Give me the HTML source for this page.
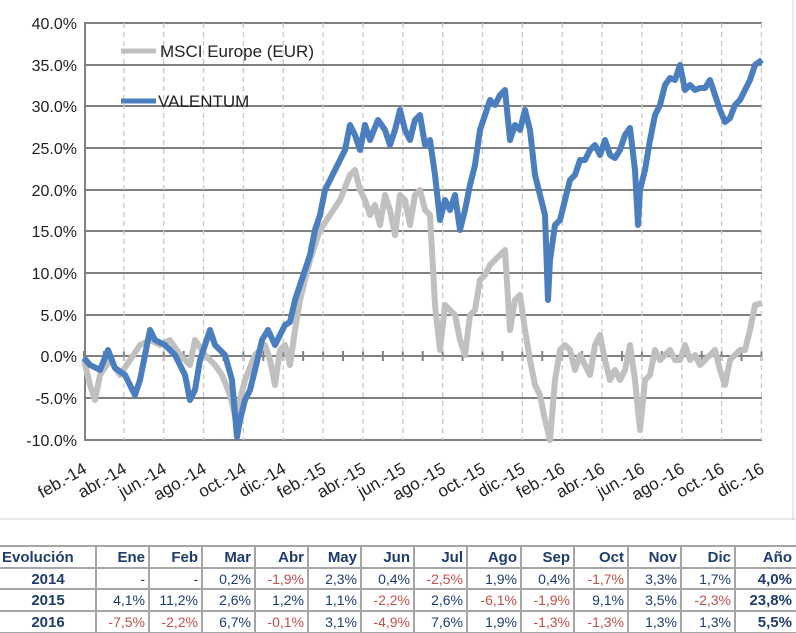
<!DOCTYPE html>
<html><head><meta charset="utf-8"><style>
body{margin:0;background:#fff;width:796px;height:633px;overflow:hidden;font-family:"Liberation Sans",Calibri,sans-serif}
svg{position:absolute;left:0;top:0}
</style></head><body>
<svg width="796" height="633" viewBox="0 0 796 633" font-family="Liberation Sans, sans-serif">
<line x1="793" y1="0" x2="793" y2="520" stroke="#d0d0d0" stroke-width="1"/>
<line x1="0" y1="519" x2="796" y2="519" stroke="#d0d0d0" stroke-width="1"/>
<g stroke="#808080" stroke-width="2">
<line x1="84" y1="23" x2="762" y2="23"/><line x1="84" y1="65" x2="762" y2="65"/>
<line x1="84" y1="106" x2="762" y2="106"/><line x1="84" y1="148" x2="762" y2="148"/>
<line x1="84" y1="190" x2="762" y2="190"/><line x1="84" y1="231" x2="762" y2="231"/>
<line x1="84" y1="273" x2="762" y2="273"/><line x1="84" y1="315" x2="762" y2="315"/>
<line x1="84" y1="356" x2="762" y2="356"/><line x1="84" y1="398" x2="762" y2="398"/>
<line x1="84" y1="440" x2="762" y2="440"/><line x1="85" y1="23" x2="85" y2="440"/>
</g>
<g stroke="#808080" stroke-width="2" id="tk"></g>
<g stroke="#c8c8c8" stroke-width="1.3" stroke-dasharray="5,4" id="vg"></g>
<g font-size="16" fill="#222" text-anchor="end">
<text x="77" y="29">40.0%</text><text x="77" y="71">35.0%</text><text x="77" y="112">30.0%</text>
<text x="77" y="154">25.0%</text><text x="77" y="196">20.0%</text><text x="77" y="237">15.0%</text>
<text x="77" y="279">10.0%</text><text x="77" y="321">5.0%</text><text x="77" y="362">0.0%</text>
<text x="77" y="404">-5.0%</text><text x="77" y="446">-10.0%</text>
</g>
<g id="xl" font-size="17" fill="#222" text-anchor="end"></g>
<polyline fill="none" stroke="#c0c0c0" stroke-width="6" stroke-linejoin="round" points="84,360 90,385 95,400 100,375 110,360 120,375 130,360 140,345 150,340 160,345 170,340 180,355 190,365 195,340 205,355 215,365 222,375 230,395 236,420 240,400 245,380 255,355 265,345 270,360 275,385 280,350 285,345 290,365 295,330 300,300 310,260 320,230 330,215 340,200 350,175 355,170 360,190 365,200 370,215 375,205 380,225 385,195 390,210 395,235 400,195 405,200 410,225 415,195 420,190 425,210 430,215 435,305 440,350 445,305 450,310 455,315 460,340 465,355 470,315 475,310 480,280 485,275 490,265 495,260 500,255 505,250 510,330 515,300 520,295 525,330 530,360 535,385 540,395 545,420 550,440 555,380 560,350 565,345 570,350 575,370 580,355 585,365 590,375 595,345 600,335 605,360 610,380 615,370 620,380 625,370 630,345 635,380 640,430 645,380 650,375 655,350 660,360 665,355 670,350 675,360 680,360 685,345 690,360 695,355 700,365 705,360 710,355 715,350 720,370 725,385 730,360 735,355 740,350 745,350 750,330 755,305 762,303"/>
<polyline fill="none" stroke="#4a7ebf" stroke-width="6" stroke-linejoin="round" points="84,358 90,365 100,370 108,350 115,368 125,375 135,395 140,380 150,330 155,340 165,345 175,355 185,375 190,400 195,390 200,360 210,330 215,345 225,355 232,380 237,437 240,420 245,400 250,390 255,370 262,340 268,330 275,345 280,335 285,325 290,322 295,300 300,285 305,270 310,255 315,230 320,215 325,190 330,180 335,170 345,150 350,125 355,135 360,150 365,125 370,140 378,120 385,130 390,145 395,130 400,110 405,130 410,140 415,120 420,115 425,145 430,140 435,175 440,220 445,200 450,210 455,195 460,230 465,210 470,185 475,165 480,130 485,115 490,100 495,105 500,95 505,90 510,140 515,125 520,130 525,110 530,130 535,175 540,195 545,215 548,300 550,260 555,225 560,220 565,200 570,180 575,175 580,160 585,160 590,150 595,145 600,155 605,140 610,155 615,158 620,150 625,135 630,128 635,170 638,225 640,190 645,170 650,140 655,115 660,105 665,85 670,78 675,80 680,65 685,90 690,85 695,90 700,88 705,88 710,80 715,95 720,110 725,122 730,118 735,105 740,100 745,90 750,80 755,65 762,60"/>
<line x1="121" y1="51" x2="156" y2="51" stroke="#c0c0c0" stroke-width="5"/>
<text x="160" y="57" font-size="17" fill="#222">MSCI Europe (EUR)</text>
<line x1="121" y1="101" x2="156" y2="101" stroke="#4a7ebf" stroke-width="5"/>
<text x="158" y="107" font-size="17" fill="#222">VALENTUM</text>
<g id="tb"></g>
</svg>
<script>
var ns="http://www.w3.org/2000/svg";
var vg=document.getElementById('vg'),xl=document.getElementById('xl'),tk=document.getElementById('tk');
var labs=["feb.-14","abr.-14","jun.-14","ago.-14","oct.-14","dic.-14","feb.-15","abr.-15","jun.-15","ago.-15","oct.-15","dic.-15","feb.-16","abr.-16","jun.-16","ago.-16","oct.-16","dic.-16"];
for(var i=0;i<35;i++){var x=84+i*19.925;var l=document.createElementNS(ns,'line');l.setAttribute('x1',x);l.setAttribute('x2',x);l.setAttribute('y1',351);l.setAttribute('y2',361);tk.appendChild(l);}
for(var i=0;i<18;i++){var x=84+i*39.85;
 if(i>0){var l=document.createElementNS(ns,'line');l.setAttribute('x1',x);l.setAttribute('x2',x);l.setAttribute('y1',23);l.setAttribute('y2',440);vg.appendChild(l);}
 var t=document.createElementNS(ns,'text');t.setAttribute('transform','translate('+(x+4)+',472) rotate(-30)');t.textContent=labs[i];xl.appendChild(t);}
var tb=document.getElementById('tb');
var cols=[0,96,149,202,255,308,361,414,467,521,574,628,681,735,796];
var rows=[546,568,589,611,633];
var data=[["Evolución","Ene","Feb","Mar","Abr","May","Jun","Jul","Ago","Sep","Oct","Nov","Dic","Año"],
["2014","-","-","0,2%","-1,9%","2,3%","0,4%","-2,5%","1,9%","0,4%","-1,7%","3,3%","1,7%","4,0%"],
["2015","4,1%","11,2%","2,6%","1,2%","1,1%","-2,2%","2,6%","-6,1%","-1,9%","9,1%","3,5%","-2,3%","23,8%"],
["2016","-7,5%","-2,2%","6,7%","-0,1%","3,1%","-4,9%","7,6%","1,9%","-1,3%","-1,3%","1,3%","1,3%","5,5%"]];
function ln(a,b,c,d){var l=document.createElementNS(ns,'line');l.setAttribute('x1',a);l.setAttribute('y1',b);l.setAttribute('x2',c);l.setAttribute('y2',d);l.setAttribute('stroke','#a6a6a6');l.setAttribute('stroke-width','2');tb.appendChild(l);}
rows.forEach(function(y){ln(0,y,796,y);});
cols.slice(1,14).forEach(function(x){ln(x,546,x,633);});
for(var r=0;r<4;r++)for(var c=0;c<14;c++){var t=document.createElementNS(ns,'text');var v=data[r][c];
 var y=rows[r]+16;t.setAttribute('y',y);
 if(c==0){t.setAttribute('x',r==0?2:48);t.setAttribute('text-anchor',r==0?'start':'middle');t.setAttribute('font-weight','bold');t.setAttribute('font-size','15');t.setAttribute('fill','#1f3c6e');}
 else{t.setAttribute('x',cols[c+1]-4);t.setAttribute('text-anchor','end');
  if(r==0||c==13){t.setAttribute('font-weight','bold');t.setAttribute('font-size','15');t.setAttribute('fill','#1f3c6e');}
  else{t.setAttribute('font-size','14');t.setAttribute('fill',v.charAt(0)=='-'&&v.length>1?'#c0504d':'#1f3c6e');}}
 t.textContent=v;tb.appendChild(t);}
</script>
</body></html>
